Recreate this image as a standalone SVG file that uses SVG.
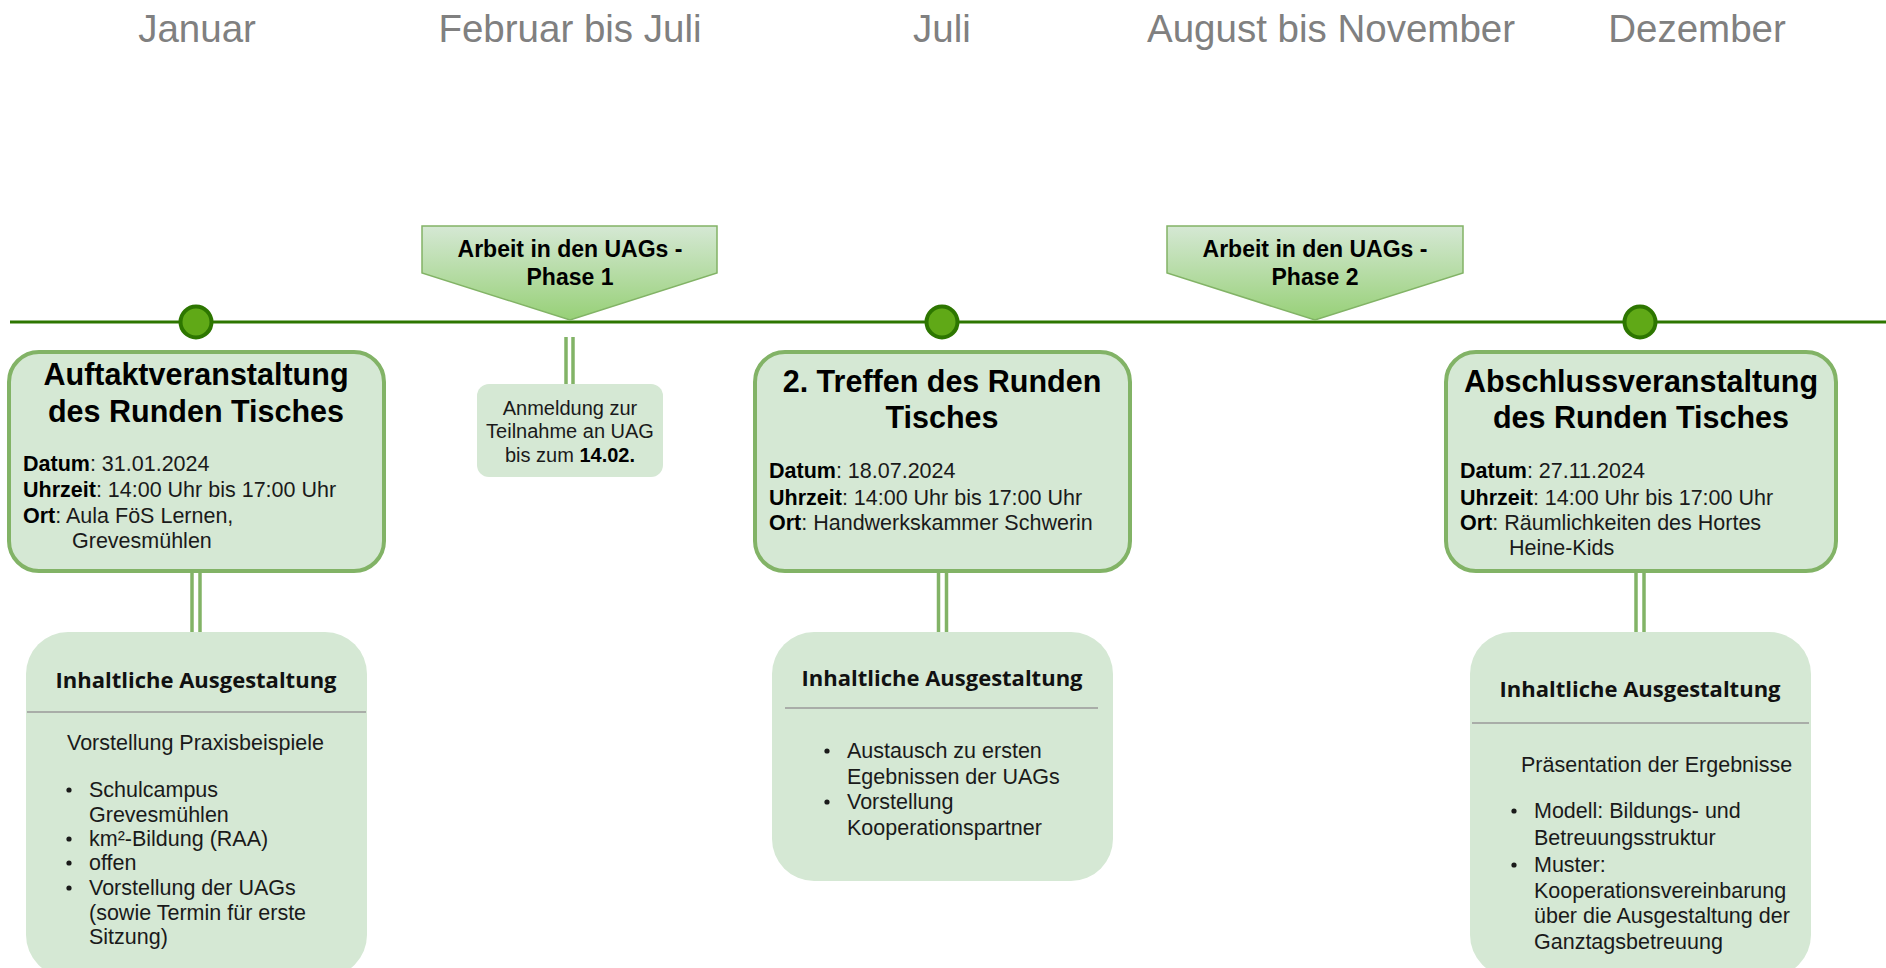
<svg xmlns="http://www.w3.org/2000/svg" width="1886" height="968" viewBox="0 0 1886 968">
<style>
text{font-family:"Liberation Sans",Arial,sans-serif;fill:#000}
.month{font-size:38.5px;fill:#808080;text-anchor:middle}
.box{fill:#d5e8d4;stroke:#82b366;stroke-width:4}
.sub{fill:#d5e8d4;stroke:none}
.title{font-size:30.5px;font-weight:bold;text-anchor:middle}
.det{font-size:21.5px;fill:#1a1a1a}
.b{font-weight:bold;fill:#000}
.hdr{font-family:"Open Sans","DejaVu Sans",sans-serif;font-size:22px;font-weight:bold;text-anchor:middle;fill:#111}
.sep{stroke:#9a9a9a;stroke-width:1.5}
.body{font-size:21.5px;fill:#1a1a1a}
.phase{fill:url(#pg);stroke:#82b366;stroke-width:1.5}
.ptxt{font-size:23px;font-weight:bold;text-anchor:middle}
.link{stroke:#82b366;stroke-width:3.5}
.dot{fill:#60a917;stroke:#2d7600;stroke-width:4}
</style>
<defs>
<linearGradient id="pg" x1="0" y1="0" x2="0" y2="1">
<stop offset="0" stop-color="#d5e8d4"/>
<stop offset="1" stop-color="#97d077"/>
</linearGradient>
</defs>
<rect width="1886" height="968" fill="#fff"/>

<g id="months">
<text class="month" x="197" y="42">Januar</text>
<text class="month" x="570" y="42">Februar bis Juli</text>
<text class="month" x="942" y="42">Juli</text>
<text class="month" x="1331" y="42">August bis November</text>
<text class="month" x="1697" y="42">Dezember</text>
</g>

<g id="connectors">
<line x1="10" y1="322" x2="1886" y2="322" stroke="#2d7600" stroke-width="3"/>
<line class="link" x1="192" y1="571" x2="192" y2="632"/>
<line class="link" x1="200" y1="571" x2="200" y2="632"/>
<line class="link" x1="566" y1="337" x2="566" y2="384"/>
<line class="link" x1="573" y1="337" x2="573" y2="384"/>
<line class="link" x1="938.5" y1="571" x2="938.5" y2="632"/>
<line class="link" x1="946.5" y1="571" x2="946.5" y2="632"/>
<line class="link" x1="1636" y1="571" x2="1636" y2="632"/>
<line class="link" x1="1644" y1="571" x2="1644" y2="632"/>
</g>

<g id="phase1">
<polygon class="phase" points="422,226 717,226 717,273 570,320 422,273"/>
<text class="ptxt" x="570" y="257">Arbeit in den UAGs -</text>
<text class="ptxt" x="570" y="285">Phase 1</text>
</g>
<g id="phase2">
<polygon class="phase" points="1167,226 1463,226 1463,273 1315,320 1167,273"/>
<text class="ptxt" x="1315" y="257">Arbeit in den UAGs -</text>
<text class="ptxt" x="1315" y="285">Phase 2</text>
</g>

<g id="dot1"><circle class="dot" cx="196" cy="322" r="15.5"/></g>
<g id="dot2"><circle class="dot" cx="942" cy="322" r="15.5"/></g>
<g id="dot3"><circle class="dot" cx="1640" cy="322" r="15.5"/></g>

<g id="event1">
<rect class="box" x="9" y="352" width="375" height="219" rx="30"/>
<text class="title" x="196" y="385">Auftaktveranstaltung</text>
<text class="title" x="196" y="422">des Runden Tisches</text>
<text class="det" x="23" y="471"><tspan class="b">Datum</tspan>: 31.01.2024</text>
<text class="det" x="23" y="497"><tspan class="b">Uhrzeit</tspan>: 14:00 Uhr bis 17:00 Uhr</text>
<text class="det" x="23" y="523"><tspan class="b">Ort</tspan>: Aula FöS Lernen,</text>
<text class="det" x="72" y="548">Grevesmühlen</text>
</g>

<g id="anmeldung">
<rect class="sub" x="477" y="384" width="186" height="93" rx="12"/>
<text class="body" x="570" y="415" text-anchor="middle" style="font-size:20px">Anmeldung zur</text>
<text class="body" x="570" y="438" text-anchor="middle" style="font-size:20px">Teilnahme an UAG</text>
<text class="body" x="570" y="462" text-anchor="middle" style="font-size:20px">bis zum <tspan class="b">14.02.</tspan></text>
</g>

<g id="event2">
<rect class="box" x="755" y="352" width="375" height="219" rx="30"/>
<text class="title" x="942" y="392">2. Treffen des Runden</text>
<text class="title" x="942" y="428">Tisches</text>
<text class="det" x="769" y="478"><tspan class="b">Datum</tspan>: 18.07.2024</text>
<text class="det" x="769" y="505"><tspan class="b">Uhrzeit</tspan>: 14:00 Uhr bis 17:00 Uhr</text>
<text class="det" x="769" y="530"><tspan class="b">Ort</tspan>: Handwerkskammer Schwerin</text>
</g>

<g id="event3">
<rect class="box" x="1446" y="352" width="390" height="219" rx="30"/>
<text class="title" x="1641" y="392">Abschlussveranstaltung</text>
<text class="title" x="1641" y="428">des Runden Tisches</text>
<text class="det" x="1460" y="478"><tspan class="b">Datum</tspan>: 27.11.2024</text>
<text class="det" x="1460" y="505"><tspan class="b">Uhrzeit</tspan>: 14:00 Uhr bis 17:00 Uhr</text>
<text class="det" x="1460" y="530"><tspan class="b">Ort</tspan>: Räumlichkeiten des Hortes</text>
<text class="det" x="1509" y="555">Heine-Kids</text>
</g>

<g id="content1">
<rect class="sub" x="26" y="632" width="341" height="345" rx="42"/>
<text class="hdr" x="196" y="688">Inhaltliche Ausgestaltung</text>
<line class="sep" x1="27" y1="712" x2="366" y2="712"/>
<text class="body" x="67" y="750">Vorstellung Praxisbeispiele</text>
<circle cx="69" cy="790" r="2.6" fill="#1a1a1a"/>
<text class="body" x="89" y="797">Schulcampus</text>
<text class="body" x="89" y="822">Grevesmühlen</text>
<circle cx="69" cy="839" r="2.6" fill="#1a1a1a"/>
<text class="body" x="89" y="846">km²-Bildung (RAA)</text>
<circle cx="69" cy="863" r="2.6" fill="#1a1a1a"/>
<text class="body" x="89" y="870">offen</text>
<circle cx="69" cy="888" r="2.6" fill="#1a1a1a"/>
<text class="body" x="89" y="895">Vorstellung der UAGs</text>
<text class="body" x="89" y="920">(sowie Termin für erste</text>
<text class="body" x="89" y="944">Sitzung)</text>
</g>

<g id="content2">
<rect class="sub" x="772" y="632" width="341" height="249" rx="42"/>
<text class="hdr" x="942" y="686">Inhaltliche Ausgestaltung</text>
<line class="sep" x1="785" y1="708" x2="1098" y2="708"/>
<circle cx="827" cy="751" r="2.6" fill="#1a1a1a"/>
<text class="body" x="847" y="758">Austausch zu ersten</text>
<text class="body" x="847" y="784">Egebnissen der UAGs</text>
<circle cx="827" cy="802" r="2.6" fill="#1a1a1a"/>
<text class="body" x="847" y="809">Vorstellung</text>
<text class="body" x="847" y="835">Kooperationspartner</text>
</g>

<g id="content3">
<rect class="sub" x="1470" y="632" width="341" height="345" rx="42"/>
<text class="hdr" x="1640" y="697">Inhaltliche Ausgestaltung</text>
<line class="sep" x1="1472" y1="723" x2="1809" y2="723"/>
<text class="body" x="1521" y="772">Präsentation der Ergebnisse</text>
<circle cx="1514" cy="811" r="2.6" fill="#1a1a1a"/>
<text class="body" x="1534" y="818">Modell: Bildungs- und</text>
<text class="body" x="1534" y="845">Betreuungsstruktur</text>
<circle cx="1514" cy="865" r="2.6" fill="#1a1a1a"/>
<text class="body" x="1534" y="872">Muster:</text>
<text class="body" x="1534" y="898">Kooperationsvereinbarung</text>
<text class="body" x="1534" y="923">über die Ausgestaltung der</text>
<text class="body" x="1534" y="949">Ganztagsbetreuung</text>
</g>
</svg>
